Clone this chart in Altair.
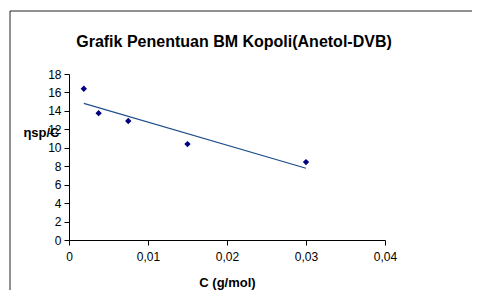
import altair as alt
import pandas as pd

conc = [0.001875, 0.00375, 0.0075, 0.015, 0.03]
visc = [16.4, 13.75, 12.9, 10.4, 8.45]
x_ticks = [0, 0.01, 0.02, 0.03, 0.04]
y_ticks = [0, 2, 4, 6, 8, 10, 12, 14, 16, 18]
title_text = ["Grafik Penentuan BM Kopoli(Anetol-DVB)"]

df = pd.DataFrame({"C": conc, "eta": visc})
tdf = pd.DataFrame({"t": title_text})
FONT = "Liberation Sans"

x_enc = alt.X(
    "C:Q",
    scale=alt.Scale(domain=[0, 0.04], nice=False),
    axis=alt.Axis(
        values=x_ticks,
        title="C (g/mol)",
        labelExpr="replace(format(datum.value, '.2~f'), '.', ',')",
        labelFlush=False,
        grid=False,
        domainColor="black",
        tickColor="black",
        tickSize=5,
        labelFontSize=12,
        labelColor="black",
        labelPadding=6,
        titleFontSize=13,
        titleFontWeight="bold",
        titleColor="black",
        titleBaseline="middle",
        titleY=42,
    ),
)
y_enc = alt.Y(
    "eta:Q",
    scale=alt.Scale(domain=[0, 18], nice=False),
    axis=alt.Axis(
        values=y_ticks,
        title="ηsp/C",
        labelFlush=False,
        grid=False,
        domainColor="black",
        tickColor="black",
        tickSize=5,
        labelFontSize=12,
        labelColor="black",
        labelPadding=3,
        titleFontSize=13,
        titleFontWeight="bold",
        titleColor="black",
        titleAngle=0,
        titleAlign="right",
        titleBaseline="middle",
        titleX=-10,
        titleY=58,
    ),
)

frame = alt.Chart(tdf).mark_rect(fill=None, stroke="#222222", strokeWidth=1, clip=False).encode(
    x=alt.value(-59), x2=alt.value(600), y=alt.value(-63), y2=alt.value(400)
)

title = alt.Chart(tdf).mark_text(
    fontSize=16, fontWeight="bold", font=FONT, color="black",
    align="center", baseline="middle",
).encode(text="t:N", x=alt.value(165), y=alt.value(-32))

base = alt.Chart(df)

trend = base.transform_regression("C", "eta").mark_line(
    color="#1f4e8c", strokeWidth=1.2
).encode(x=x_enc, y=y_enc)

points = base.mark_point(
    shape="diamond", filled=True, color="#000080", size=40, opacity=1
).encode(x=x_enc, y=y_enc)

chart = alt.layer(frame, title, trend, points).properties(
    width=316,
    height=166,
    autosize=alt.AutoSizeParams(type="none"),
    padding={"left": 61, "top": 66, "right": 87, "bottom": 50},
).configure(font=FONT).configure_view(stroke=None).configure_axis(
    labelFont=FONT, titleFont=FONT
)

chart.save("out.html", embed_options={"renderer": "svg", "actions": False})
